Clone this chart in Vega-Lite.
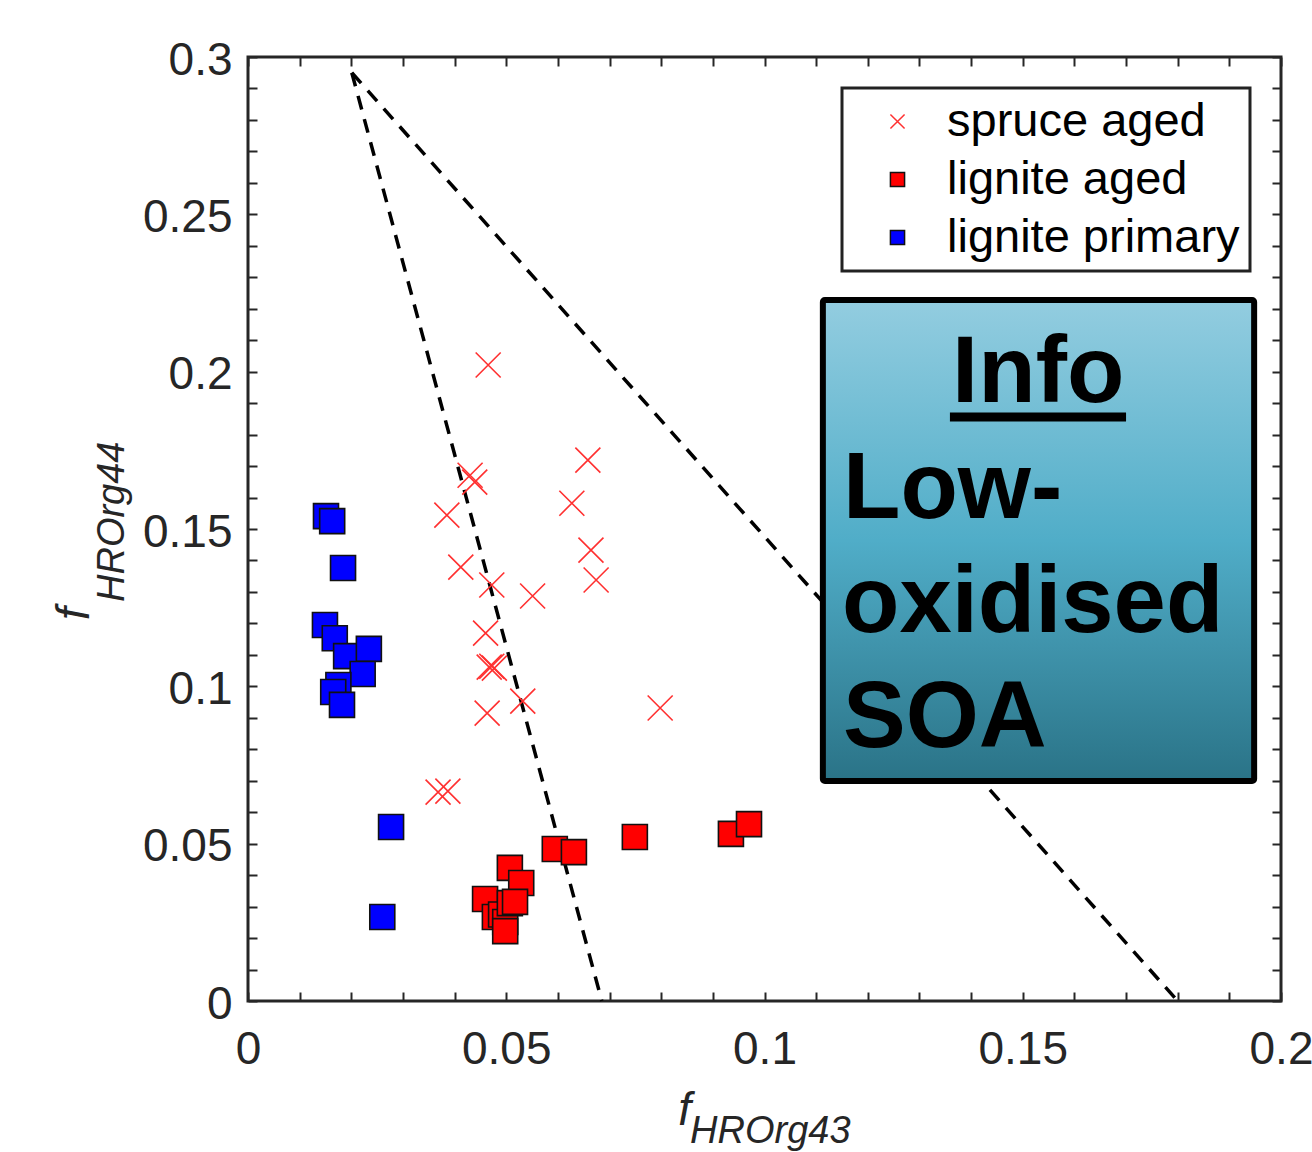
{
  "$schema": "https://vega.github.io/schema/vega-lite/v6.json",
  "width": 1033,
  "height": 944,
  "autosize": {"type": "none"},
  "padding": {"left": 248, "top": 57, "right": 31, "bottom": 151},
  "background": "white",
  "config": {
    "view": {"stroke": "#262626", "strokeWidth": 3},
    "font": "Liberation Sans",
    "legend": {"strokeWidth": 3},
    "axis": {
      "domain": false, "grid": false, "tickColor": "#262626", "tickWidth": 2, "tickSize": -9,
      "labelFontSize": 46, "labelColor": "#262626", "labelFont": "Liberation Sans", "labelOverlap": false, "labelFlush": false, "title": null
    }
  },
  "datasets": {
    "lines": [
      {"line": "left", "x": 0.0201, "y": 0.295},
      {"line": "left", "x": 0.0685, "y": 0.0},
      {"line": "right", "x": 0.0201, "y": 0.295},
      {"line": "right", "x": 0.18, "y": 0.0}
    ],
    "points": [
      {"series": "spruce aged", "x": 0.0465, "y": 0.2021},
      {"series": "spruce aged", "x": 0.0430, "y": 0.1671},
      {"series": "spruce aged", "x": 0.0439, "y": 0.1649},
      {"series": "spruce aged", "x": 0.0385, "y": 0.1544},
      {"series": "spruce aged", "x": 0.0658, "y": 0.1719},
      {"series": "spruce aged", "x": 0.0627, "y": 0.1582},
      {"series": "spruce aged", "x": 0.0664, "y": 0.1433},
      {"series": "spruce aged", "x": 0.0674, "y": 0.1338},
      {"series": "spruce aged", "x": 0.0412, "y": 0.1379},
      {"series": "spruce aged", "x": 0.0472, "y": 0.1322},
      {"series": "spruce aged", "x": 0.0551, "y": 0.1287},
      {"series": "spruce aged", "x": 0.0460, "y": 0.1169},
      {"series": "spruce aged", "x": 0.0467, "y": 0.1061},
      {"series": "spruce aged", "x": 0.0477, "y": 0.1058},
      {"series": "spruce aged", "x": 0.0472, "y": 0.1064},
      {"series": "spruce aged", "x": 0.0532, "y": 0.0953},
      {"series": "spruce aged", "x": 0.0463, "y": 0.0915},
      {"series": "spruce aged", "x": 0.0798, "y": 0.0931},
      {"series": "spruce aged", "x": 0.0368, "y": 0.0664},
      {"series": "spruce aged", "x": 0.0387, "y": 0.0667},
      {"series": "lignite aged", "x": 0.0507, "y": 0.0423},
      {"series": "lignite aged", "x": 0.0529, "y": 0.0375},
      {"series": "lignite aged", "x": 0.0459, "y": 0.0324},
      {"series": "lignite aged", "x": 0.0478, "y": 0.0267},
      {"series": "lignite aged", "x": 0.0490, "y": 0.0275},
      {"series": "lignite aged", "x": 0.0498, "y": 0.0251},
      {"series": "lignite aged", "x": 0.0507, "y": 0.0311},
      {"series": "lignite aged", "x": 0.0517, "y": 0.0315},
      {"series": "lignite aged", "x": 0.0498, "y": 0.0222},
      {"series": "lignite aged", "x": 0.0594, "y": 0.0483},
      {"series": "lignite aged", "x": 0.0631, "y": 0.0473},
      {"series": "lignite aged", "x": 0.0749, "y": 0.0521},
      {"series": "lignite aged", "x": 0.0935, "y": 0.0531},
      {"series": "lignite aged", "x": 0.0970, "y": 0.0562},
      {"series": "lignite primary", "x": 0.0151, "y": 0.1541},
      {"series": "lignite primary", "x": 0.0163, "y": 0.1525},
      {"series": "lignite primary", "x": 0.0184, "y": 0.1376},
      {"series": "lignite primary", "x": 0.0149, "y": 0.1195},
      {"series": "lignite primary", "x": 0.0168, "y": 0.1153},
      {"series": "lignite primary", "x": 0.0190, "y": 0.1096},
      {"series": "lignite primary", "x": 0.0234, "y": 0.1119},
      {"series": "lignite primary", "x": 0.0222, "y": 0.1039},
      {"series": "lignite primary", "x": 0.0175, "y": 0.1004},
      {"series": "lignite primary", "x": 0.0165, "y": 0.0982},
      {"series": "lignite primary", "x": 0.0182, "y": 0.0941},
      {"series": "lignite primary", "x": 0.0277, "y": 0.0553},
      {"series": "lignite primary", "x": 0.0260, "y": 0.0267}
    ]
  },
  "layer": [
    {
      "data": {"name": "lines"},
      "mark": {"type": "line", "color": "black", "strokeWidth": 3.5, "strokeDash": [14, 10]},
      "encoding": {
        "x": {"field": "x", "type": "quantitative", "scale": {"domain": [0, 0.2], "nice": false, "zero": false},
          "axis": {"orient": "bottom", "values": [0,0.01,0.02,0.03,0.04,0.05,0.06,0.07,0.08,0.09,0.1,0.11,0.12,0.13,0.14,0.15,0.16,0.17,0.18,0.19,0.2],
            "labelExpr": "abs(datum.value*20 - round(datum.value*20)) < 0.001 ? format(datum.value, '~g') : ''", "labelPadding": 35}},
        "y": {"field": "y", "type": "quantitative", "scale": {"domain": [0, 0.3], "nice": false, "zero": false},
          "axis": {"orient": "left", "values": [0,0.01,0.02,0.03,0.04,0.05,0.06,0.07,0.08,0.09,0.1,0.11,0.12,0.13,0.14,0.15,0.16,0.17,0.18,0.19,0.2,0.21,0.22,0.23,0.24,0.25,0.26,0.27,0.28,0.29,0.3],
            "labelExpr": "abs(datum.value*20 - round(datum.value*20)) < 0.001 ? format(datum.value, '~g') : ''", "labelPadding": 25, "labelOffset": 3}},
        "detail": {"field": "line"}
      }
    },
    {
      "data": {"name": "points"},
      "mark": {"type": "point", "size": 625, "strokeWidth": 1.6, "opacity": 1},
      "encoding": {
        "x": {"field": "x", "type": "quantitative",
          "axis": {"orient": "top", "labels": false, "values": [0,0.01,0.02,0.03,0.04,0.05,0.06,0.07,0.08,0.09,0.1,0.11,0.12,0.13,0.14,0.15,0.16,0.17,0.18,0.19,0.2]}},
        "y": {"field": "y", "type": "quantitative",
          "axis": {"orient": "right", "labels": false, "values": [0,0.01,0.02,0.03,0.04,0.05,0.06,0.07,0.08,0.09,0.1,0.11,0.12,0.13,0.14,0.15,0.16,0.17,0.18,0.19,0.2,0.21,0.22,0.23,0.24,0.25,0.26,0.27,0.28,0.29,0.3]}},
        "shape": {"field": "series", "type": "nominal",
          "scale": {"domain": ["spruce aged", "lignite aged", "lignite primary"], "range": ["M-1,-1L1,1M1,-1L-1,1", "square", "square"]},
          "legend": {"title": null, "orient": "none", "legendX": 594, "legendY": 31, "strokeColor": "#222222", "fillColor": "white",
            "padding": 10, "symbolOffset": 22, "labelOffset": 26, "labelFontSize": 47, "labelColor": "black", "labelFont": "Liberation Sans", "labelLimit": 0,
            "rowPadding": 10, "symbolSize": 200, "symbolStrokeWidth": 1.5,
            "encode": {"legend": {"update": {"strokeWidth": {"value": 3}}}}}},
        "fill": {"field": "series", "type": "nominal",
          "scale": {"domain": ["spruce aged", "lignite aged", "lignite primary"], "range": ["transparent", "#ff0000", "#0000ff"]}},
        "stroke": {"field": "series", "type": "nominal",
          "scale": {"domain": ["spruce aged", "lignite aged", "lignite primary"], "range": ["#ff3030", "#111111", "#111111"]}}
      }
    },
    {
      "data": {"values": [{"box": "info"}]},
      "mark": {"type": "rect", "stroke": "black", "strokeWidth": 6, "cornerRadius": 2,
        "fill": {"gradient": "linear", "x1": 0, "y1": 0, "x2": 0, "y2": 1,
          "stops": [{"offset": 0, "color": "#93cde0"}, {"offset": 0.5, "color": "#50adc8"}, {"offset": 1, "color": "#2a7387"}]}},
      "encoding": {
        "x": {"datum": 0.1113, "type": "quantitative", "axis": null},
        "x2": {"datum": 0.1948},
        "y": {"datum": 0.2228, "type": "quantitative", "axis": null},
        "y2": {"datum": 0.0699}
      }
    },
    {
      "data": {"values": [{"label": "Info"}]},
      "mark": {"type": "text", "fontSize": 94, "fontWeight": "bold", "font": "Liberation Sans", "align": "center", "baseline": "alphabetic", "color": "black"},
      "encoding": {
        "x": {"datum": 0.1530, "type": "quantitative", "axis": null},
        "y": {"datum": 0.1903, "type": "quantitative", "axis": null},
        "text": {"field": "label"}
      }
    },
    {
      "data": {"values": [{"label": "underline"}]},
      "mark": {"type": "rule", "color": "black", "strokeWidth": 9},
      "encoding": {
        "x": {"datum": 0.1359, "type": "quantitative", "axis": null},
        "x2": {"datum": 0.1700},
        "y": {"datum": 0.1856, "type": "quantitative", "axis": null}
      }
    },
    {
      "data": {"values": [{"label": "Low-"}]},
      "mark": {"type": "text", "fontSize": 94, "fontWeight": "bold", "font": "Liberation Sans", "align": "left", "baseline": "alphabetic", "color": "black"},
      "encoding": {
        "x": {"datum": 0.1152, "type": "quantitative", "axis": null},
        "y": {"datum": 0.1535, "type": "quantitative", "axis": null},
        "text": {"field": "label"}
      }
    },
    {
      "data": {"values": [{"label": "oxidised"}]},
      "mark": {"type": "text", "fontSize": 94, "fontWeight": "bold", "font": "Liberation Sans", "align": "left", "baseline": "alphabetic", "color": "black"},
      "encoding": {
        "x": {"datum": 0.1150, "type": "quantitative", "axis": null},
        "y": {"datum": 0.1173, "type": "quantitative", "axis": null},
        "text": {"field": "label"}
      }
    },
    {
      "data": {"values": [{"label": "SOA"}]},
      "mark": {"type": "text", "fontSize": 94, "fontWeight": "bold", "font": "Liberation Sans", "align": "left", "baseline": "alphabetic", "color": "black"},
      "encoding": {
        "x": {"datum": 0.1152, "type": "quantitative", "axis": null},
        "y": {"datum": 0.0807, "type": "quantitative", "axis": null},
        "text": {"field": "label"}
      }
    },
    {
      "data": {"values": [{"label": "f"}]},
      "mark": {"type": "text", "fontSize": 46, "fontStyle": "italic", "font": "Liberation Sans", "align": "left", "baseline": "alphabetic", "color": "#262626"},
      "encoding": {
        "x": {"datum": 0.0833, "type": "quantitative", "axis": null},
        "y": {"datum": -0.0394, "type": "quantitative", "axis": null},
        "text": {"field": "label"}
      }
    },
    {
      "data": {"values": [{"label": "HROrg43"}]},
      "mark": {"type": "text", "fontSize": 38, "fontStyle": "italic", "font": "Liberation Sans", "align": "left", "baseline": "alphabetic", "color": "#262626"},
      "encoding": {
        "x": {"datum": 0.0856, "type": "quantitative", "axis": null},
        "y": {"datum": -0.0452, "type": "quantitative", "axis": null},
        "text": {"field": "label"}
      }
    },
    {
      "data": {"values": [{"label": "f"}]},
      "mark": {"type": "text", "fontSize": 46, "fontStyle": "italic", "font": "Liberation Sans", "align": "left", "baseline": "alphabetic", "angle": 270, "color": "#262626"},
      "encoding": {
        "x": {"datum": -0.0308, "type": "quantitative", "axis": null},
        "y": {"datum": 0.1211, "type": "quantitative", "axis": null},
        "text": {"field": "label"}
      }
    },
    {
      "data": {"values": [{"label": "HROrg44"}]},
      "mark": {"type": "text", "fontSize": 38, "fontStyle": "italic", "font": "Liberation Sans", "align": "left", "baseline": "alphabetic", "angle": 270, "color": "#262626"},
      "encoding": {
        "x": {"datum": -0.0240, "type": "quantitative", "axis": null},
        "y": {"datum": 0.1268, "type": "quantitative", "axis": null},
        "text": {"field": "label"}
      }
    }
  ],
  "resolve": {"axis": {"x": "independent", "y": "independent"}}
}
